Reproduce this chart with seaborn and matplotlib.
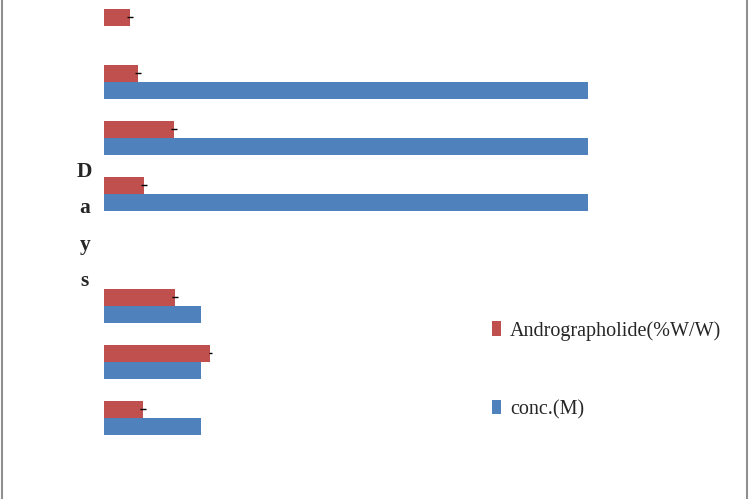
import seaborn as sns
import matplotlib.pyplot as plt
import pandas as pd
import numpy as np

# categories top to bottom (tick labels are not shown in the original)
days = ["d1", "d2", "d3", "d4", "d5", "d6", "d7", "d8"]
andro = [0.027, 0.035, 0.072, 0.041, np.nan, 0.073, 0.110, 0.040]
andro_err = [0.003, 0.003, 0.003, 0.003, np.nan, 0.003, 0.002, 0.003]
conc = [np.nan, 0.5, 0.5, 0.5, np.nan, 0.1, 0.1, 0.1]
series = ["Andrographolide(%W/W)", "conc.(M)"]
colors = ["#C0504D", "#4F81BD"]

df = pd.DataFrame({
    "day": days * 2,
    "value": andro + conc,
    "series": [series[0]] * len(days) + [series[1]] * len(days),
})

sns.set_style("white")
plt.rcParams["font.family"] = ["Liberation Serif", "DejaVu Serif"]

fig = plt.figure(figsize=(7.5, 4.99), dpi=100)
ax = fig.add_axes([104 / 750, 53 / 499, 580.8 / 750, 448 / 499])

sns.barplot(data=df, x="value", y="day", hue="series", hue_order=series,
            order=days, palette=colors, width=0.62, orient="h",
            saturation=1, linewidth=0, edgecolor="none", ax=ax, legend=True)

# error bars on the red bars
red_rgb = plt.matplotlib.colors.to_rgb(colors[0])
red_bars = [p for p in ax.patches if p.get_width() > 0 and
            np.allclose(p.get_facecolor()[:3], red_rgb)]
red_bars = sorted(red_bars, key=lambda p: p.get_y())
vals = [v for v in andro if not np.isnan(v)]
errs = [e for e in andro_err if not np.isnan(e)]
for p, v, e in zip(red_bars, vals, errs):
    ax.errorbar(p.get_width(), p.get_y() + p.get_height() / 2, xerr=e,
                fmt="none", ecolor="black", elinewidth=1.0, capsize=0)

ax.set_xlim(0, 0.6)
ax.set_ylim(len(days) - 0.5, -0.5)
ax.set_xticks([])
ax.set_yticks([])
ax.set_xlabel("")
sns.despine(ax=ax, left=True, bottom=True)

ax.set_ylabel("D\na\ny\ns", rotation=0, fontsize=15.5, linespacing=2.1,
              fontweight="bold", va="center", ha="center")
ax.yaxis.set_label_coords(-0.033, 0.49)

ax.legend(loc="center left", bbox_to_anchor=(482 / 750, 1 - 370 / 499),
          bbox_transform=fig.transFigure, frameon=False, fontsize=14.5,
          handlelength=0.45, handleheight=0.7, handletextpad=0.45,
          labelspacing=2.95, borderpad=0)

# thin grey frame lines at the left and right edges
fig.add_artist(plt.Line2D([2 / 750, 2 / 750], [0, 1], color="#909090", lw=1.5))
fig.add_artist(plt.Line2D([747 / 750, 747 / 750], [0, 1], color="#909090", lw=1.5))

fig.savefig("out.png", dpi=100)
